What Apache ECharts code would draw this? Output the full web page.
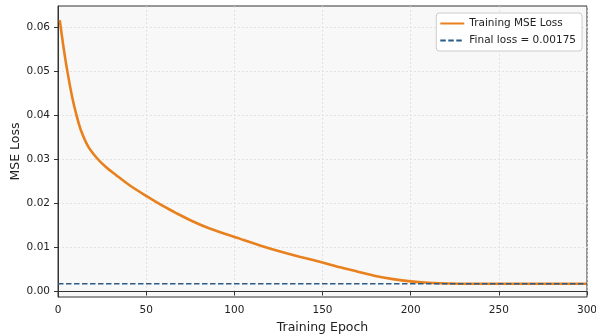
<!DOCTYPE html>
<html>
<head>
<meta charset="utf-8">
<script src="https://cdn.jsdelivr.net/npm/echarts@6/dist/echarts.min.js"></script>
<style>
    html, body {margin: 0; padding: 0; background: #fff;}
    #chart {width: 596px; height: 336px;}
</style>
</head>
<body>
<div id="chart"></div>
<script>
    // values
    const epochs = [1, 3, 5, 8, 10.5, 13, 17, 22, 27, 33, 41, 50, 60, 67, 76, 86, 103, 115, 125, 137, 150,
        160, 170, 180, 190, 200, 210, 222, 235, 300];
    const lossValues = [0.0616, 0.0558, 0.0507, 0.0442, 0.0400, 0.0366, 0.0330, 0.0303, 0.0283, 0.0264, 0.0240,
        0.0217, 0.0193, 0.0178, 0.0160, 0.0143, 0.0120, 0.0104, 0.0092, 0.0079, 0.0066,
        0.0055, 0.0045, 0.0035, 0.0028, 0.0023, 0.0020, 0.0018, 0.00175, 0.00175];
    const finalLoss = 0.00175;
    const finalRange = [0, 300];
    const yTicks = [0, 0.01, 0.02, 0.03, 0.04, 0.05, 0.06];

    const lossData = epochs.map((e, i) => [e, lossValues[i]]);
    const finalData = finalRange.map(e => [e, finalLoss]);

    const font = 'DejaVu Sans';
    const ink = '#222';

    const myChart = echarts.init(document.getElementById('chart'));

    const option = {
        animation: false,
        textStyle: {fontFamily: font},
        grid: {
            left: 58, right: 9, top: 6, bottom: 39,
            outerBoundsMode: 'none',
            containLabel: false,
            show: true,
            backgroundColor: '#f8f8f8',
            borderColor: '#333',
            borderWidth: 1
        },
        legend: {
            right: 14,
            top: 13,
            orient: 'vertical',
            itemWidth: 24,
            itemHeight: 12,
            itemGap: 6,
            itemTextGap: 8,
            padding: [5, 6, 5, 3],
            backgroundColor: '#fff',
            borderColor: '#ccc',
            borderWidth: 1,
            borderRadius: 3,
            itemStyle: {color: 'rgba(0,0,0,0)', borderWidth: 0},
            textStyle: {fontFamily: font, fontSize: 10.5, color: ink},
            data: ['Training MSE Loss', 'Final loss = ' + finalLoss]
        },
        xAxis: {
            type: 'value',
            min: 0,
            max: 300,
            interval: 50,
            name: 'Training Epoch',
            nameLocation: 'middle',
            nameGap: 24,
            nameMoveOverlap: false,
            nameTextStyle: {fontFamily: font, fontSize: 12.5, color: ink},
            axisLine: {show: true, lineStyle: {color: '#333', width: 1}},
            axisTick: {show: true, length: 4, lineStyle: {color: '#333'}},
            axisLabel: {margin: 8, fontSize: 10.5, color: ink, fontFamily: font},
            splitLine: {show: true, lineStyle: {color: '#dcdcdc', type: [2, 2], width: 0.8}}
        },
        yAxis: {
            type: 'value',
            min: -0.00125,
            max: 0.0648,
            name: 'MSE Loss',
            nameLocation: 'middle',
            nameGap: 36,
            nameMoveOverlap: false,
            nameTextStyle: {fontFamily: font, fontSize: 12.5, color: ink},
            axisLine: {show: true, lineStyle: {color: '#333', width: 1}},
            axisTick: {show: true, length: 4, customValues: yTicks, lineStyle: {color: '#333'}},
            axisLabel: {
                margin: 8, fontSize: 10.5, color: ink, fontFamily: font,
                customValues: yTicks,
                formatter: v => v.toFixed(2)
            },
            splitLine: {show: true, lineStyle: {color: '#dcdcdc', type: [2, 2], width: 0.8}}
        },
        series: [
            {
                name: 'Training MSE Loss',
                type: 'line',
                data: lossData,
                smooth: 0.3,
                showSymbol: false,
                symbol: 'none',
                lineStyle: {color: '#e8801e', width: 2.6},
                itemStyle: {color: '#e8801e'}
            },
            {
                name: 'Final loss = ' + finalLoss,
                type: 'line',
                data: finalData,
                showSymbol: false,
                symbol: 'none',
                lineStyle: {color: '#2b5c88', width: 1.6, type: [5.5, 2.5]},
                itemStyle: {color: '#2b5c88'}
            }
        ]
    };

    option && myChart.setOption(option);
</script>
</body>
</html>
